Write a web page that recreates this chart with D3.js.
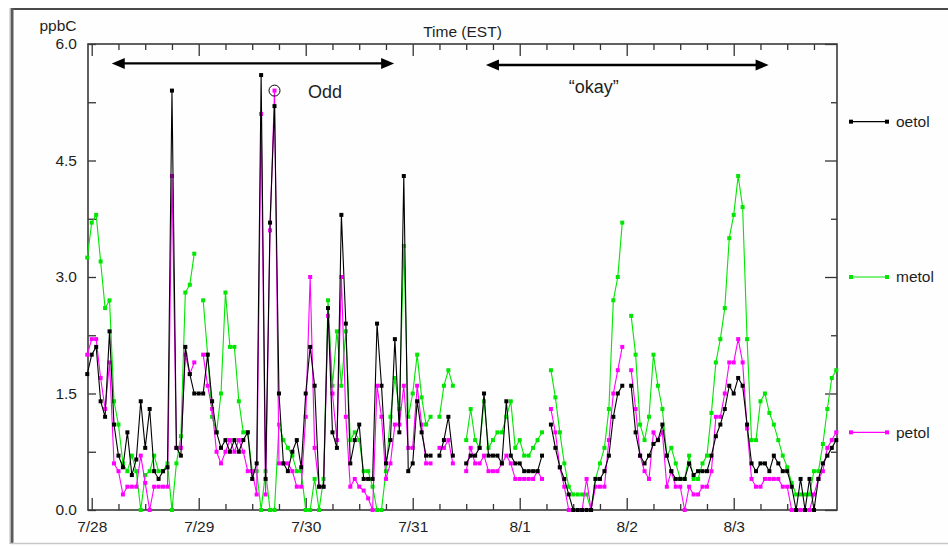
<!DOCTYPE html>
<html>
<head>
<meta charset="utf-8">
<script src="https://cdn.jsdelivr.net/npm/d3@7/dist/d3.min.js"></script>
<style>
  html, body { margin: 0; padding: 0; background: #fff; }
  svg { display: block; }
  text { font-family: "Liberation Sans", Arial, sans-serif; fill: #1e1e1e; }
</style>
</head>
<body>
<svg id="chart" width="948" height="546"></svg>
<script>
// Hourly toluene measurements (ppbC), first sample at 7/27 23:00 EST.
const firstSample = new Date(2003, 6, 27, 23, 0);

const dayLabels = ["7/28", "7/29", "7/30", "7/31", "8/1", "8/2", "8/3"];
const yTickValues = [0, 1.5, 3.0, 4.5, 6.0];

const seriesNames = ["oetol", "metol", "petol"];
const seriesColors = ["#000000", "#00e600", "#ff00ff"];
const legendLevels = [5, 3, 1];   // legend rows sit at these ppbC levels

const oetol = [
  1.75,
  // 7/28
  2.0, 2.1, 1.4, 1.2, 2.3, 1.1, 0.7, 0.55, 1.0, 0.45, 0.65, 1.4, 0.8, 1.3, 0.5, 0.4, 0.5, 0.55, 5.4, 0.8, 0.7, 2.1, 1.75, 1.5,
  // 7/29
  1.5, 1.5, 2.0, 1.4, 1.0, 0.8, 0.9, 0.75, 0.9, 0.75, 0.9, 1.0, 0.4, 0.6, 5.6, 0.4, 3.7, 5.2, 1.5, 0.6, 0.5, 0.75, 0.9, 0.55,
  // 7/30
  1.5, 2.1, 1.6, 0.3, 0.3, 2.6, 1.0, 0.8, 3.8, 2.4, 0.6, 0.9, 1.1, 0.4, 0.4, 0.4, 2.4, 1.6, 0.6, 0.9, 2.2, 1.0, 4.3, 0.5,
  // 7/31
  0.6, 1.4, 1.0, 0.7, 0.7, null, 0.7, 0.9, 1.2, 0.7, null, null, 0.6, 0.7, 0.7, 0.8, 1.5, 0.7, 0.7, 0.7, 0.6, 1.4, 0.7, 0.6,
  // 8/1
  0.6, 0.5, 0.5, 0.5, 0.5, 0.7, null, 1.1, 0.8, 0.55, 0.4, 0.2, 0.0, 0.0, 0.0, 0.0, 0.0, 0.4, 0.4, 0.5, 0.7, 1.2, 1.5, 1.6,
  // 8/2
  null, 1.6, 1.0, 0.7, 0.6, 0.7, 0.85, 0.9, 1.1, 0.7, 0.5, 0.4, 0.4, 0.4, 0.6, 0.45, 0.5, 0.5, 0.5, 0.7, 0.95, 1.1, 1.3, 1.6,
  // 8/3
  1.5, 1.7, 1.6, 1.1, 0.6, 0.5, 0.6, 0.6, 0.5, 0.7, 0.6, 0.5, 0.5, 0.3, 0.0, 0.4, 0.0, 0.4, 0.0, 0.4, 0.6, 0.7, 0.8, 0.9
];

const metol = [
  3.25,
  // 7/28
  3.7, 3.8, 3.2, 2.6, 2.7, 1.4, 1.1, 0.6, 0.5, 0.7, 0.5, 0.0, 0.45, 0.5, 0.7, 0.5, 0.5, 0.6, 0.0, 0.6, 0.95, 2.8, 2.9, 3.3,
  // 7/29
  null, 2.7, 2.0, 1.2, 1.0, 1.5, 2.8, 2.1, 2.1, 1.4, 1.0, 1.0, 0.5, 0.5, 0.0, 0.5, 0.0, 0.0, 1.1, 0.9, 0.8, 0.7, 0.5, 0.5,
  // 7/30
  0.0, 0.0, 0.4, 0.0, 0.4, 2.7, 1.6, 2.3, 1.6, 2.3, 0.9, 1.0, 0.9, 0.5, 0.5, 0.3, 0.0, 0.0, 0.5, 1.2, 1.7, 1.3, 3.4, 1.2,
  // 7/31
  1.5, 2.0, 1.45, 1.1, 1.2, null, 1.2, 1.6, 1.8, 1.6, null, null, 0.9, 1.3, 0.9, 0.8, 1.4, 0.8, 0.9, 1.0, 1.0, 1.2, 1.4, 0.8,
  // 8/1
  0.9, 0.7, 0.7, 0.8, 0.9, 1.0, null, 1.8, 1.45, 1.0, 0.6, 0.3, 0.2, 0.2, 0.2, 0.2, 0.0, 0.4, 0.6, 0.8, 1.3, 2.7, 3.0, 3.7,
  // 8/2
  null, 2.5, 2.0, 1.1, 0.9, 1.2, 2.0, 1.6, 1.3, 0.7, 0.8, 0.6, 0.4, 0.4, 0.7, 0.4, 0.4, 0.6, 0.7, 1.25, 1.9, 2.2, 2.6, 3.5,
  // 8/3
  3.8, 4.3, 3.9, 2.2, 0.9, 0.9, 1.4, 1.5, 1.25, 1.1, 0.9, 0.7, 0.55, 0.35, 0.2, 0.2, 0.2, 0.2, 0.5, 0.5, 0.85, 1.3, 1.7, 1.8
];

const petol = [
  2.0,
  // 7/28
  2.2, 2.2, 1.7, 1.3, 1.9, 0.6, 0.5, 0.2, 0.3, 0.3, 0.3, 0.7, 0.35, 0.0, 0.3, 0.3, 0.3, 0.3, 4.3, 0.8, 0.8, 2.0, 1.75, 1.9,
  // 7/29
  null, 2.0, 1.6, 1.3, 0.75, 0.6, 0.75, 0.9, 0.75, 0.9, 0.75, 0.5, 0.5, 0.2, 5.1, 0.2, 3.6, 5.4, 0.6, 0.6, 0.6, 0.5, 0.3, 0.3,
  // 7/30
  1.2, 3.0, 0.8, 0.3, 0.3, 2.5, 1.5, 0.9, 3.0, 1.2, 0.3, 0.4, 0.3, 0.25, 0.15, 0.0, 1.6, 1.2, 0.4, 0.6, 1.1, 1.1, 1.6, 0.8,
  // 7/31
  0.8, 1.6, 1.1, 0.6, 0.6, null, 0.8, 0.8, 0.9, 0.6, null, null, 0.5, 0.8, 0.6, 0.6, 0.7, 0.5, 0.5, 0.5, 0.6, 0.7, 0.6, 0.4,
  // 8/1
  0.4, 0.4, 0.4, 0.4, 0.5, 0.4, null, 1.3, 1.0, 0.55, 0.3, 0.0, 0.0, 0.0, 0.0, 0.4, 0.0, 0.3, 0.3, 0.3, 0.9, 1.5, 1.8, 2.1,
  // 8/2
  null, 1.8, 1.3, 0.7, 0.5, 0.4, 1.0, 0.9, 1.0, 0.3, 0.5, 0.3, 0.3, 0.0, 0.3, 0.2, 0.2, 0.3, 0.3, 0.5, 1.2, 1.2, 1.5, 1.9,
  // 8/3
  1.9, 2.2, 1.9, 1.05, 0.4, 0.3, 0.3, 0.4, 0.4, 0.4, 0.4, 0.3, 0.3, 0.0, 0.0, 0.0, 0.0, 0.0, 0.2, 0.4, 0.5, 0.8, 0.9, 1.0
];

// Annotated periods: [start, end] of each bracket and its label
const periodLabels = ["Odd", "\u201Cokay\u201D"];
const periodSpans = [
  [new Date(2003, 6, 28, 4, 30), new Date(2003, 6, 30, 19, 50)],
  [new Date(2003, 6, 31, 16, 25), new Date(2003, 7, 3, 7, 50)]
];

// ---------------------------------------------------------------------------
const W = 948, H = 546;
const plot = { left: 88, right: 837, top: 44, bottom: 510 };

const svg = d3.select("#chart");

const parseDay = s => { const [m, d] = s.split("/").map(Number); return new Date(2003, m - 1, d); };
const dayDates = dayLabels.map(parseDay);

const x = d3.scaleTime()
  .domain([new Date(2003, 6, 27, 23, 10), new Date(2003, 7, 3, 23, 10)])
  .range([plot.left, plot.right]);
const y = d3.scaleLinear().domain([0, 6]).range([plot.bottom, plot.top]);

const sampleTime = i => d3.timeHour.offset(firstSample, i);
const seriesData = [oetol, metol, petol].map(arr => arr.map((v, i) => ({ t: sampleTime(i), v })));

// window frame
svg.append("rect").attr("width", W).attr("height", H).attr("fill", "#ffffff");
svg.append("rect").attr("x", 13).attr("y", 10).attr("width", W - 13).attr("height", 533).attr("fill", "#fefefe");
svg.append("line").attr("x1", 11).attr("x2", W).attr("y1", 9).attr("y2", 9).attr("stroke", "#4a4a4a").attr("stroke-width", 2);
svg.append("line").attr("x1", 12).attr("x2", 12).attr("y1", 8).attr("y2", 544).attr("stroke", "#5a5a5a").attr("stroke-width", 3);
svg.append("line").attr("x1", 10).attr("x2", 10).attr("y1", 8).attr("y2", 544).attr("stroke", "#b8b8b8").attr("stroke-width", 1);
svg.append("line").attr("x1", 11).attr("x2", W).attr("y1", 543.5).attr("y2", 543.5).attr("stroke", "#c8c8c8").attr("stroke-width", 1.5);

// axes
const fmtDay = d3.timeFormat("%-m/%-d");
const minorTimes = d3.timeHour.every(6).range(x.domain()[0], x.domain()[1]).filter(t => t.getHours() !== 0);
const minorY = d3.range(0.75, 6, 1.5);

function styleAxis(g) {
  g.select(".domain").remove();
  g.selectAll(".tick line").attr("stroke", "#333").attr("stroke-width", 1.3);
  g.selectAll(".tick text").attr("font-size", 15.5).attr("fill", "#1e1e1e")
    .attr("font-family", "'Liberation Sans', Arial, sans-serif");
}

svg.append("g").attr("transform", `translate(0,${plot.bottom})`)
  .call(d3.axisBottom(x).tickValues(dayDates).tickFormat(fmtDay).tickSize(-12).tickPadding(11))
  .call(styleAxis);
svg.append("g").attr("transform", `translate(0,${plot.bottom})`)
  .call(d3.axisBottom(x).tickValues(minorTimes).tickFormat("").tickSize(-6))
  .call(styleAxis);
svg.append("g").attr("transform", `translate(0,${plot.top})`)
  .call(d3.axisTop(x).tickValues(dayDates).tickFormat("").tickSize(-12))
  .call(styleAxis);
svg.append("g").attr("transform", `translate(0,${plot.top})`)
  .call(d3.axisTop(x).tickValues(minorTimes).tickFormat("").tickSize(-6))
  .call(styleAxis);

svg.append("g").attr("transform", `translate(${plot.left},0)`)
  .call(d3.axisLeft(y).tickValues(yTickValues).tickFormat(d3.format(".1f")).tickSize(-8).tickPadding(11))
  .call(styleAxis);
svg.append("g").attr("transform", `translate(${plot.left},0)`)
  .call(d3.axisLeft(y).tickValues(minorY).tickFormat("").tickSize(-8))
  .call(styleAxis);
svg.append("g").attr("transform", `translate(${plot.right},0)`)
  .call(d3.axisRight(y).tickValues(yTickValues).tickFormat("").tickSize(-12))
  .call(styleAxis);
svg.append("g").attr("transform", `translate(${plot.right},0)`)
  .call(d3.axisRight(y).tickValues(minorY).tickFormat("").tickSize(-6))
  .call(styleAxis);

// plot frame
svg.append("rect")
  .attr("x", plot.left).attr("y", plot.top)
  .attr("width", plot.right - plot.left).attr("height", plot.bottom - plot.top)
  .attr("fill", "none").attr("stroke", "#3a3a3a").attr("stroke-width", 1.6);

// titles
svg.append("text").attr("x", (plot.left + plot.right) / 2).attr("y", 36.5)
  .attr("text-anchor", "middle").attr("font-size", 15.5).text("Time (EST)");
svg.append("text").attr("x", 76.5).attr("y", 30.5)
  .attr("text-anchor", "end").attr("font-size", 15.5).text("ppbC");

// series: metol underneath, then petol, oetol on top
const line = d3.line().defined(d => d.v != null).x(d => x(d.t)).y(d => y(d.v));
const drawOrder = [1, 2, 0];
drawOrder.forEach(k => {
  const g = svg.append("g").attr("class", "series-" + seriesNames[k]);
  g.append("path").datum(seriesData[k])
    .attr("d", line).attr("fill", "none")
    .attr("stroke", seriesColors[k]).attr("stroke-width", 1.1);
  g.selectAll("rect").data(seriesData[k].filter(d => d.v != null)).join("rect")
    .attr("x", d => x(d.t) - 2).attr("y", d => y(d.v) - 2)
    .attr("width", 4).attr("height", 4).attr("fill", seriesColors[k]);
});

// legend
seriesNames.forEach((name, k) => {
  const ly = y(legendLevels[k]);
  const g = svg.append("g");
  g.append("line").attr("x1", 851).attr("x2", 887).attr("y1", ly).attr("y2", ly)
    .attr("stroke", seriesColors[k]).attr("stroke-width", 1.1);
  [851, 887].forEach(px => g.append("rect").attr("x", px - 2).attr("y", ly - 2)
    .attr("width", 4).attr("height", 4).attr("fill", seriesColors[k]));
  g.append("text").attr("x", 896).attr("y", ly).attr("dy", "0.35em")
    .attr("font-size", 15.5).text(name);
});

// period brackets (double-headed arrows) with labels
const arrowLevels = [5.75, 5.73];
const labelAnchors = [
  { t: new Date(2003, 6, 30, 0, 30), v: 5.3 },
  { t: new Date(2003, 7, 1, 11, 0), v: 5.37 }
];
periodSpans.forEach((span, k) => {
  const x0 = x(span[0]), x1 = x(span[1]), ay = y(arrowLevels[k]);
  const g = svg.append("g");
  g.append("line").attr("x1", x0 + 8).attr("x2", x1 - 8).attr("y1", ay).attr("y2", ay)
    .attr("stroke", "#000").attr("stroke-width", 2.4);
  g.append("path").attr("d", `M${x0},${ay} L${x0 + 13},${ay - 5.5} L${x0 + 13},${ay + 5.5} Z`).attr("fill", "#000");
  g.append("path").attr("d", `M${x1},${ay} L${x1 - 13},${ay - 5.5} L${x1 - 13},${ay + 5.5} Z`).attr("fill", "#000");
  g.append("text").attr("x", x(labelAnchors[k].t)).attr("y", y(labelAnchors[k].v))
    .attr("font-family", "'Liberation Serif', 'Times New Roman', serif")
    .attr("font-size", 18).attr("fill", "#000").text(periodLabels[k]);
});

// circle the highest petol reading
const peak = seriesData[2].reduce((a, b) => (b.v != null && b.v > a.v ? b : a));
svg.append("circle").attr("cx", x(peak.t)).attr("cy", y(peak.v)).attr("r", 5.5)
  .attr("fill", "none").attr("stroke", "#000").attr("stroke-width", 1);
</script>
</body>
</html>
